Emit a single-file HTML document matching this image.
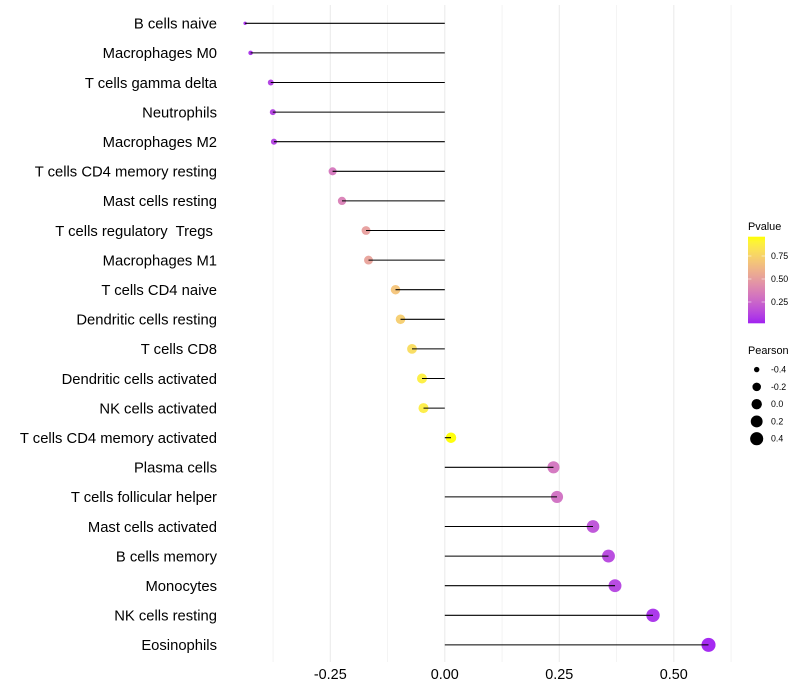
<!DOCTYPE html>
<html>
<head>
<meta charset="utf-8">
<title>Lollipop chart</title>
<style>
html,body{margin:0;padding:0;background:#fff;width:800px;height:700px;overflow:hidden}
svg{display:block}
text{font-family:"Liberation Sans",Arial,sans-serif;fill:#000;white-space:pre}
</style>
</head>
<body>
<svg id="chart" width="800" height="700" viewBox="0 0 800 700" xmlns="http://www.w3.org/2000/svg">
  <rect width="800" height="700" fill="#fff"/>
  <g id="grid"></g>
  <g id="points"></g>
  <g id="segments"></g>
  <g id="ylabels"></g>
  <g id="xlabels"></g>
  <g id="legend-color"></g>
  <g id="legend-size"></g>
</svg>
<script>
var categories = ["B cells naive","Macrophages M0","T cells gamma delta","Neutrophils","Macrophages M2","T cells CD4 memory resting","Mast cells resting","T cells regulatory  Tregs ","Macrophages M1","T cells CD4 naive","Dendritic cells resting","T cells CD8","Dendritic cells activated","NK cells activated","T cells CD4 memory activated","Plasma cells","T cells follicular helper","Mast cells activated","B cells memory","Monocytes","NK cells resting","Eosinophils"];
var pearson = [-0.436,-0.424,-0.380,-0.3755,-0.373,-0.245,-0.2245,-0.172,-0.1666,-0.1076,-0.0967,-0.0716,-0.0498,-0.0465,0.0135,0.2373,0.245,0.3236,0.3574,0.3716,0.4546,0.5758];
var pvalues = [0.04,0.05,0.09,0.10,0.10,0.32,0.36,0.50,0.52,0.68,0.72,0.79,0.88,0.87,0.957,0.31,0.29,0.16,0.12,0.11,0.05,0.012];
var xTicks = [-0.25,0,0.25,0.5];
var xTickLabels = ["-0.25","0.00","0.25","0.50"];
var xMinorTicks = [-0.375,-0.125,0.125,0.375,0.625];
var pTicks = [0.25,0.5,0.75];
var pTickLabels = ["0.25","0.50","0.75"];
var sizeBreaks = [-0.4,-0.2,0,0.2,0.4];
var sizeLabels = ["-0.4","-0.2","0.0","0.2","0.4"];

var NS = "http://www.w3.org/2000/svg";
function mk(parent, tag, attrs, txt){
  var el = document.createElementNS(NS, tag);
  for (var k in attrs) el.setAttribute(k, attrs[k]);
  if (txt !== undefined) el.textContent = txt;
  parent.appendChild(el);
  return el;
}
function g(id){ return document.getElementById(id); }

/* axis functions */
function xScale(v){ return 444.8 + v * 458; }
function yScale(i){ return 23.3 + i * 29.6; }
var pMin = Math.min.apply(null, pvalues), pMax = Math.max.apply(null, pvalues);
var rMin = Math.min.apply(null, pearson), rMax = Math.max.apply(null, pearson);
function rScale(v){
  var t = (v - rMin) / (rMax - rMin);
  var size = 1 + 5 * Math.sqrt(Math.max(0, t));
  return 0.375 * (size * 2.845 + 0.94) + 0.28;
}
function hex2lab(h){
  var c=[parseInt(h.substr(1,2),16)/255,parseInt(h.substr(3,2),16)/255,parseInt(h.substr(5,2),16)/255].map(function(u){return u<=0.04045?u/12.92:Math.pow((u+0.055)/1.055,2.4);});
  var X=(0.4124*c[0]+0.3576*c[1]+0.1805*c[2])/0.95047,Y=0.2126*c[0]+0.7152*c[1]+0.0722*c[2],Z=(0.0193*c[0]+0.1192*c[1]+0.9505*c[2])/1.08883;
  var f=function(t){return t>0.008856?Math.cbrt(t):7.787*t+16/116;};
  return [116*f(Y)-16,500*(f(X)-f(Y)),200*(f(Y)-f(Z))];
}
function lab2css(l){
  var fy=(l[0]+16)/116,fx=l[1]/500+fy,fz=fy-l[2]/200;
  var f=function(t){return t*t*t>0.008856?t*t*t:(t-16/116)/7.787;};
  var X=f(fx)*0.95047,Y=f(fy),Z=f(fz)*1.08883;
  var rgb=[3.2406*X-1.5372*Y-0.4986*Z,-0.9689*X+1.8758*Y+0.0415*Z,0.0557*X-0.2040*Y+1.0570*Z];
  return "rgb("+rgb.map(function(u){
    u=Math.max(0,Math.min(1,u));
    u=u<=0.0031308?12.92*u:1.055*Math.pow(u,1/2.4)-0.055;
    return Math.round(u*255);
  }).join(",")+")";
}
var labLow = hex2lab("#A020F0"), labHigh = hex2lab("#FFFF00");
function colorScale(p){
  var t = Math.max(0, Math.min(1, (p - pMin) / (pMax - pMin)));
  return lab2css([0,1,2].map(function(i){ return labLow[i] + t * (labHigh[i] - labLow[i]); }));
}

/* grid */
xMinorTicks.forEach(function(v){
  var el = mk(g("grid"), "line", {x1:xScale(v),x2:xScale(v),y1:5,y2:662,stroke:"#ebebeb","stroke-width":0.53});
  
  
});
xTicks.forEach(function(v){
  var el = mk(g("grid"), "line", {x1:xScale(v),x2:xScale(v),y1:5,y2:662,stroke:"#ebebeb","stroke-width":1.07});
  
  
});

/* marks */
categories.forEach(function(c, i){
  var y = yScale(i), x = xScale(pearson[i]);
  var pt = mk(g("points"), "circle", {cx:x,cy:y,r:rScale(pearson[i]),fill:colorScale(pvalues[i]),"fill-opacity":0.95});
  
  
  var seg = mk(g("segments"), "line", {x1:xScale(0),x2:x,y1:y,y2:y,stroke:"#000","stroke-width":1.07});
  
  
  var lb = mk(g("ylabels"), "text", {x:217,y:y+5.3,"text-anchor":"end","font-size":"14.8px"}, c);
  
  
});

/* x tick labels */
xTicks.forEach(function(v, i){
  var t = mk(g("xlabels"), "text", {x:xScale(v),y:679,"text-anchor":"middle","font-size":"14.4px"}, xTickLabels[i]);
  
  
});

/* colour legend */
var lc = g("legend-color");
function barY(p){ return 279 - (p - 0.5) * 92; }
var title1 = mk(lc, "text", {x:748,y:230,"font-size":"10.9px"}, "Pvalue");


var defs = mk(lc, "defs", {});
var grad = mk(defs, "linearGradient", {id:"pgrad",x1:0,y1:1,x2:0,y2:0});
for (var s = 0; s <= 20; s++){
  mk(grad, "stop", {offset:(s/20),"stop-color":colorScale(pMin + (pMax - pMin) * s / 20)});
}
var bar = mk(lc, "rect", {x:748,y:236.7,width:17,height:86.6,fill:"url(#pgrad)"});


pTicks.forEach(function(p, i){
  var y = barY(p);
  var a = mk(lc, "line", {x1:748,x2:751.4,y1:y,y2:y,stroke:"#fff","stroke-width":0.53});
  
  
  var b = mk(lc, "line", {x1:761.6,x2:765,y1:y,y2:y,stroke:"#fff","stroke-width":0.53});
  
  
  var t = mk(lc, "text", {x:771,y:y+3,"font-size":"8.8px"}, pTickLabels[i]);
  
  
});

/* size legend */
var ls = g("legend-size");
var title2 = mk(ls, "text", {x:748,y:354,"font-size":"10.9px"}, "Pearson");


function legendY(i){ return 369.6 + i * 17.28; }
sizeBreaks.forEach(function(v, i){
  var y = legendY(i);
  var c = mk(ls, "circle", {cx:756.7,cy:y,r:rScale(v),fill:"#000"});
  
  
  var t = mk(ls, "text", {x:771,y:y+3,"font-size":"8.8px"}, sizeLabels[i]);
  
  
});
</script>
</body>
</html>
